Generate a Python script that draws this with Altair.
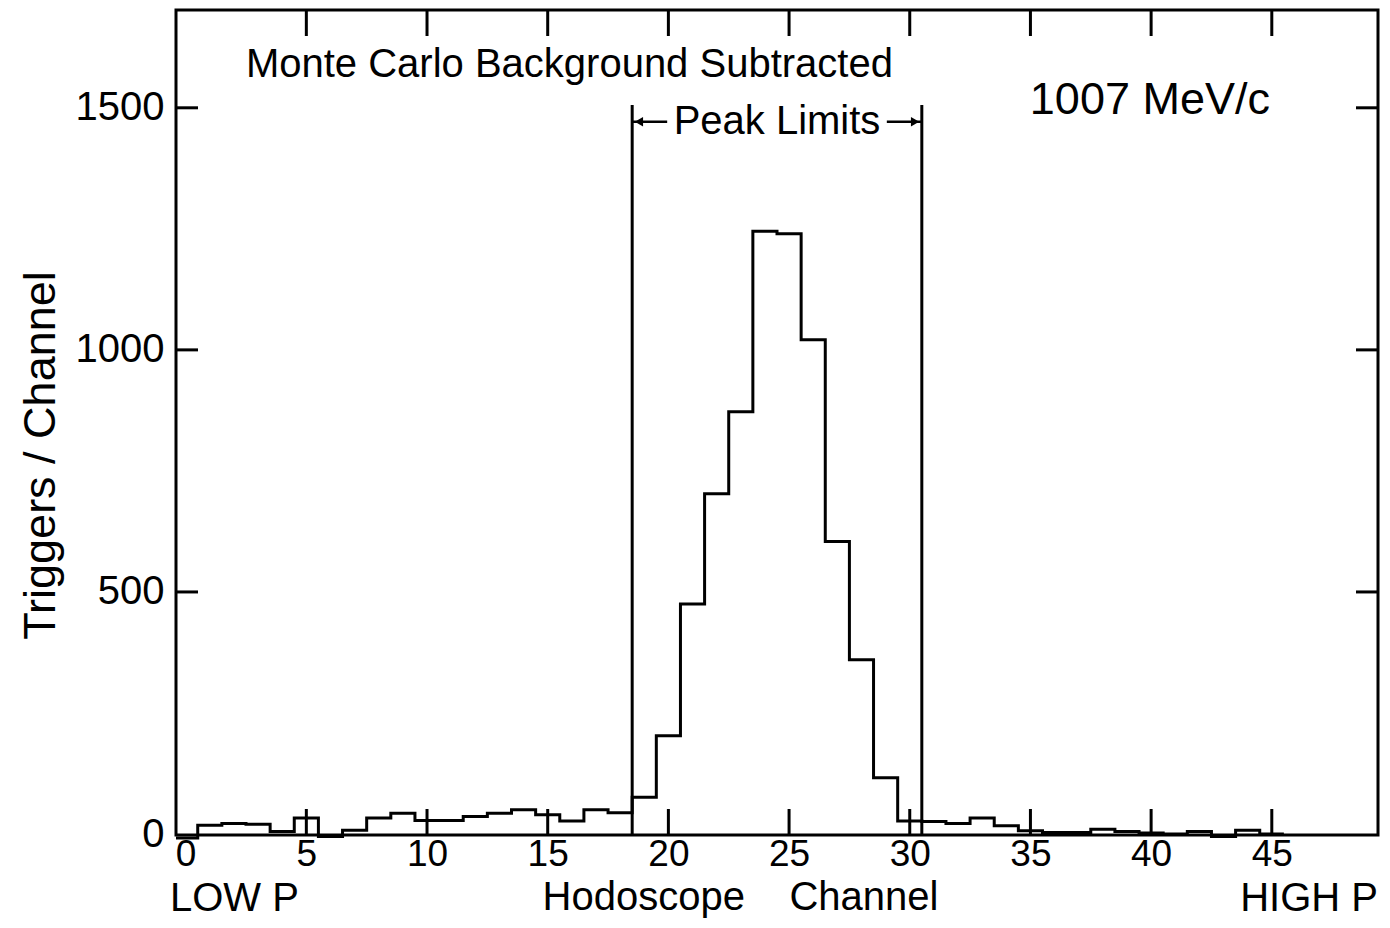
import altair as alt
import pandas as pd

# ---- data ----
channels = list(range(0, 46))
counts = [-8, 18, 22, 20, 5, 33, -5, 8, 33, 43,
          28, 28, 36, 43, 50, 40, 27, 50, 44, 76,
          203, 475, 703, 872, 1245, 1240, 1021, 604, 360, 116,
          27, 26, 22, 33, 17, 7, 3, 3, 10, 5,
          2, 0, 5, -5, 8, 0]
x_tick_labels = [0, 5, 10, 15, 20, 25, 30, 35, 40, 45]
y_tick_labels = [0, 500, 1000, 1500]
peak_limits = [18.5, 30.5]

X_MIN, X_MAX = -0.4, 49.4
Y_MIN, Y_MAX = -2, 1702
W, H = 1202, 825
FONT = "Liberation Sans"

xs = alt.Scale(domain=[X_MIN, X_MAX], nice=False, zero=False)
ys = alt.Scale(domain=[Y_MIN, Y_MAX], nice=False, zero=False)

X_AXIS = alt.Axis(values=x_tick_labels, tickSize=0, domain=False, grid=False,
                  format="d",
                  labelFontSize=37, labelFont=FONT, labelPadding=1,
                  labelColor="black", labelFlush=False,
                  title="Hodoscope\u00a0\u00a0\u00a0\u00a0Channel", titleFontSize=40, titleFont=FONT,
                  titleFontWeight="normal", titleColor="black",
                  titleX=564, titleY=74, titleAlign="center",
                  titleBaseline="alphabetic")
Y_AXIS = alt.Axis(values=y_tick_labels, tickSize=0, domain=False, grid=False,
                  format="d",
                  labelFontSize=40, labelFont=FONT, labelPadding=12,
                  labelColor="black",
                  title="Triggers / Channel", titleFontSize=45, titleFont=FONT,
                  titleFontWeight="normal", titleColor="black",
                  titleAngle=270, titleX=-136, titleY=445,
                  titleAlign="center", titleBaseline="middle")


def X(field):
    return alt.X(field, scale=xs, axis=X_AXIS)


def Y(field):
    return alt.Y(field, scale=ys, axis=Y_AXIS)


# histogram outline as step-after line through bin left edges
edges = [max(c - 0.5, X_MIN) for c in channels] + [channels[-1] + 0.5]
vals = counts + [counts[-1]]
hist_df = pd.DataFrame({"edge": edges, "count": vals})

hist = alt.Chart(hist_df).mark_line(
    interpolate="step-after", color="black", strokeWidth=3, clip=False
).encode(x=X("edge:Q"), y=Y("count:Q"))

# peak limit lines
lim_df = pd.DataFrame({"edge": peak_limits, "count": [1506, 1506], "bot": [Y_MIN, Y_MIN]})
limits = alt.Chart(lim_df).mark_rule(color="black", strokeWidth=3).encode(
    x=X("edge:Q"), y=Y("count:Q"), y2="bot:Q",
)

# arrows of "Peak Limits"
arr_df = pd.DataFrame({"edge": [18.5, 29.05], "x2": [19.95, 30.5], "count": [1471, 1471]})
arrow_lines = alt.Chart(arr_df).mark_rule(color="black", strokeWidth=2.5).encode(
    x=X("edge:Q"), x2="x2:Q", y=Y("count:Q"),
)
head_df = pd.DataFrame({"edge": [18.78, 30.22], "count": [1471, 1471],
                        "shape": ["triangle-left", "triangle-right"]})
arrow_heads = alt.Chart(head_df).mark_point(filled=True, color="black", size=90, opacity=1).encode(
    x=X("edge:Q"), y=Y("count:Q"),
    shape=alt.Shape("shape:N", scale=None, legend=None),
)

# annotations
notes_df = pd.DataFrame({
    "edge": [15.9, 24.5],
    "count": [1589, 1471],
    "text": ["Monte Carlo Background Subtracted", "Peak Limits"],
})
notes = alt.Chart(notes_df).mark_text(
    font=FONT, fontSize=40, color="black", align="center", baseline="middle"
).encode(x=X("edge:Q"), y=Y("count:Q"), text="text:N")

mom_df = pd.DataFrame({"edge": [39.95], "count": [1517], "text": ["1007 MeV/c"]})
mom = alt.Chart(mom_df).mark_text(
    font=FONT, fontSize=45, color="black", align="center", baseline="middle"
).encode(x=X("edge:Q"), y=Y("count:Q"), text="text:N")

low_df = pd.DataFrame({"edge": [X_MIN - 0.25], "text": ["LOW P"]})
high_df = pd.DataFrame({"edge": [X_MAX], "text": ["HIGH P"]})
low = alt.Chart(low_df).mark_text(
    font=FONT, fontSize=40, color="black", align="left", baseline="alphabetic"
).encode(x=X("edge:Q"), y=alt.value(H + 76), text="text:N")
high = alt.Chart(high_df).mark_text(
    font=FONT, fontSize=40, color="black", align="right", baseline="alphabetic"
).encode(x=X("edge:Q"), y=alt.value(H + 76), text="text:N")

# inward ticks
xt_df = pd.DataFrame({"edge": x_tick_labels[1:]})
yt_df = pd.DataFrame({"count": y_tick_labels[1:]})
tick_bot = alt.Chart(xt_df).mark_rule(color="black", strokeWidth=3).encode(
    x=X("edge:Q"), y=alt.value(H), y2=alt.value(H - 26))
tick_top = alt.Chart(xt_df).mark_rule(color="black", strokeWidth=3).encode(
    x=X("edge:Q"), y=alt.value(0), y2=alt.value(26))
tick_left = alt.Chart(yt_df).mark_rule(color="black", strokeWidth=3).encode(
    y=Y("count:Q"), x=alt.value(0), x2=alt.value(22))
tick_right = alt.Chart(yt_df).mark_rule(color="black", strokeWidth=3).encode(
    y=Y("count:Q"), x=alt.value(W), x2=alt.value(W - 22))

chart = alt.layer(
    hist, limits, arrow_lines, arrow_heads, notes, mom, low, high,
    tick_bot, tick_top, tick_left, tick_right
).properties(
    width=W, height=H,
    autosize=alt.AutoSizeParams(type="none"),
    padding={"left": 168, "top": 2, "right": 2, "bottom": 84},
    background="white",
).configure_view(
    stroke="black", strokeWidth=3
)

chart.save("out.html", embed_options={"renderer": "svg", "actions": False})
